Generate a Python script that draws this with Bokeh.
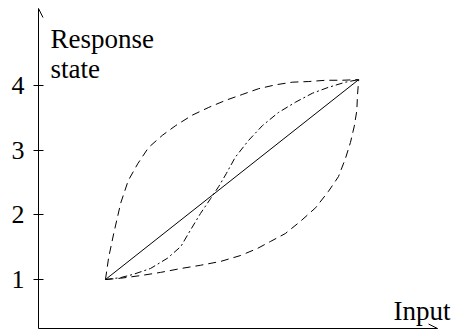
from bokeh.plotting import figure
from bokeh.models import Range1d, FixedTicker, Label, Arrow, OpenHead
from bokeh.embed import file_html
from bokeh.resources import INLINE

# Data (input in arbitrary units, response state 1..4)
y_ticks = [1, 2, 3, 4]

line_x = [1.00, 5.00]
line_y = [1.00, 4.09]

upper_x = [1.00, 1.05, 1.13, 1.24, 1.36, 1.51, 1.68, 1.90, 2.11, 2.37, 2.63, 2.90, 3.16, 3.42, 3.69, 3.95, 4.21, 4.48, 4.74, 5.00]
upper_y = [1.00, 1.34, 1.71, 2.18, 2.53, 2.79, 3.04, 3.23, 3.38, 3.54, 3.66, 3.77, 3.86, 3.95, 4.01, 4.05, 4.06, 4.08, 4.08, 4.09]

lower_x = [1.00, 1.24, 1.55, 1.87, 2.19, 2.50, 2.82, 3.13, 3.40, 3.61, 3.84, 4.08, 4.32, 4.52, 4.68, 4.79, 4.87, 4.93, 4.97, 4.98, 5.00]
lower_y = [1.00, 1.02, 1.06, 1.11, 1.17, 1.22, 1.28, 1.37, 1.48, 1.59, 1.71, 1.90, 2.11, 2.36, 2.59, 2.87, 3.12, 3.37, 3.61, 3.84, 4.09]

s_x = [1.00, 1.24, 1.44, 1.71, 1.98, 2.19, 2.34, 2.50, 2.66, 2.79, 2.91, 3.05, 3.26, 3.48, 3.73, 4.00, 4.27, 4.52, 4.79, 5.00]
s_y = [1.00, 1.03, 1.08, 1.17, 1.33, 1.51, 1.76, 2.02, 2.25, 2.44, 2.64, 2.89, 3.15, 3.38, 3.58, 3.74, 3.88, 3.97, 4.05, 4.09]

X0, X1 = -0.058, 6.513
XA = 6.245          # end of the input axis arrow
Y0, Y1 = 0.243, 5.189

FONT = "Liberation Serif"

p = figure(width=454, height=331, output_backend="svg", toolbar_location=None,
           x_range=Range1d(X0, X1), y_range=Range1d(Y0, Y1),
           min_border_left=38, min_border_right=0, min_border_top=8, min_border_bottom=3)
p.outline_line_color = None
p.grid.visible = False
p.background_fill_color = "white"
p.border_fill_color = "white"

# y axis
ya = p.yaxis[0]
ya.ticker = FixedTicker(ticks=y_ticks)
ya.major_tick_in = 5
ya.major_tick_out = 5
ya.minor_tick_line_color = None
ya.major_tick_line_color = "black"
ya.axis_line_color = "black"
ya.major_label_standoff = 9
ya.major_label_text_font = FONT
ya.major_label_text_font_size = "26px"
ya.major_label_text_color = "black"

# x axis (no ticks)
xa = p.xaxis[0]
xa.ticker = FixedTicker(ticks=[])
xa.bounds = (X0, XA)
xa.major_tick_in = 0
xa.major_tick_out = 0
xa.minor_tick_line_color = None
xa.major_label_standoff = 0
xa.axis_line_color = "black"

# curves
p.line(upper_x, upper_y, line_color="black", line_width=1, line_dash="8 5")
p.line(lower_x, lower_y, line_color="black", line_width=1, line_dash="8 5")
p.line(s_x, s_y, line_color="black", line_width=1, line_dash="7 3 2 3")
p.line(line_x, line_y, line_color="black", line_width=1)

# arrow heads on the axes
p.add_layout(Arrow(end=OpenHead(size=9, line_width=1, line_color="black"),
                   x_start=X0, y_start=Y1 - 0.3, x_end=X0, y_end=Y1,
                   line_color="black", line_width=1))
p.add_layout(Arrow(end=OpenHead(size=9, line_width=1, line_color="black"),
                   x_start=XA - 0.3, y_start=Y0, x_end=XA, y_end=Y0,
                   line_color="black", line_width=1))

# axis titles
for txt, x, y in [("Response", 0.13, 4.72), ("state", 0.13, 4.26), ("Input", 5.55, 0.51)]:
    p.add_layout(Label(x=x, y=y, text=txt, text_font=FONT, text_font_size="27px",
                       text_color="black", text_align="left", text_baseline="alphabetic"))

open("out.html", "w").write(file_html(p, INLINE))
